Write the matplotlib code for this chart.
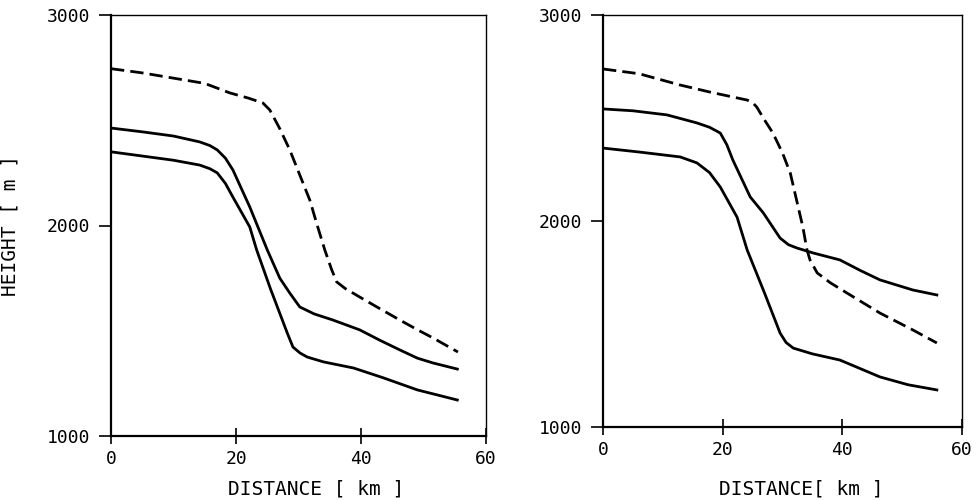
import matplotlib.pyplot as plt

# left panel
l_dash_x = [0, 5, 10, 15, 19, 22, 24.3, 25.4, 27, 28.6, 30.2, 31.8, 33, 34.2, 35.3, 36.1, 37.5, 39.8, 43, 46.2, 49, 51.5, 55.5]
l_dash_y = [2745, 2725, 2700, 2675, 2630, 2605, 2582, 2549, 2460, 2359, 2240, 2121, 2000, 1884, 1790, 1732, 1700, 1660, 1605, 1551, 1505, 1466, 1399]
l_up_x = [0, 5, 10, 14.2, 15.8, 17, 18.3, 19.5, 22.2, 25, 27, 28.6, 30.2, 32.5, 35.5, 39.8, 43, 46.2, 49, 51.5, 55.4]
l_up_y = [2463, 2445, 2425, 2397, 2380, 2359, 2320, 2264, 2088, 1884, 1750, 1679, 1613, 1580, 1551, 1504, 1455, 1409, 1370, 1347, 1318]
l_lo_x = [0, 5, 10, 14.2, 15.8, 17, 18.3, 19.5, 22.2, 23.3, 25.5, 28.2, 29.1, 30.2, 31.4, 34, 38.8, 43.6, 49, 55.4]
l_lo_y = [2350, 2330, 2310, 2287, 2270, 2250, 2200, 2135, 1993, 1884, 1700, 1489, 1423, 1395, 1375, 1352, 1323, 1276, 1219, 1171]

# right panel
r_dash_x = [0, 6, 12.9, 18, 24.1, 25, 25.7, 27, 28.4, 30, 31.3, 33.4, 34.1, 34.6, 35.8, 38, 40.8, 46.3, 51.8, 55.8]
r_dash_y = [2738, 2715, 2660, 2625, 2587, 2575, 2553, 2490, 2427, 2330, 2233, 1971, 1859, 1811, 1748, 1700, 1650, 1553, 1471, 1408]
r_up_x = [0, 5, 10.7, 15.7, 17.8, 19.6, 20.7, 21.7, 24.6, 26.8, 29.6, 31, 32.4, 35.1, 39.6, 43, 46.3, 51.8, 55.8]
r_up_y = [2544, 2535, 2515, 2476, 2455, 2427, 2370, 2296, 2117, 2039, 1917, 1885, 1869, 1845, 1811, 1760, 1714, 1665, 1641]
r_lo_x = [0, 6, 12.9, 15.7, 17.8, 19.6, 22.4, 24.1, 27, 29.6, 30.6, 31.8, 35, 39.6, 46.3, 51, 55.8]
r_lo_y = [2354, 2335, 2311, 2282, 2235, 2165, 2019, 1859, 1650, 1456, 1410, 1383, 1355, 1325, 1243, 1205, 1180]

xticks = [0, 20, 40, 60]
yticks = [1000, 2000, 3000]

plt.rcParams['font.family'] = 'DejaVu Sans Mono'

fig = plt.figure(figsize=(9.78, 5.0), dpi=100)
ax1 = fig.add_axes([0.1135, 0.128, 0.3835, 0.842])
ax2 = fig.add_axes([0.6166, 0.146, 0.367, 0.824])

def style(ax, xlabel, xlab_pos):
    ax.set_xlim(0, 60)
    ax.set_ylim(1000, 3000)
    ax.set_xticks(xticks)
    ax.set_yticks(yticks)
    ax.tick_params(axis='x', direction='inout', length=12, width=1.2, labelsize=13, pad=4)
    ax.tick_params(axis='y', direction='out', length=9, width=1.2, labelsize=13, pad=6)
    for s in ['left', 'bottom']:
        ax.spines[s].set_linewidth(1.6)
    for s in ['top', 'right']:
        ax.spines[s].set_linewidth(1.0)
    ax.set_xlabel(xlabel, fontsize=14)
    ax.xaxis.set_label_coords(xlab_pos[0], xlab_pos[1])

for ax, data in [(ax1, (l_dash_x, l_dash_y, l_up_x, l_up_y, l_lo_x, l_lo_y)),
                 (ax2, (r_dash_x, r_dash_y, r_up_x, r_up_y, r_lo_x, r_lo_y))]:
    dx, dy, ux, uy, lx, ly = data
    ax.plot(dx, dy, color='black', lw=2, dashes=(4.8, 2.2))
    ax.plot(ux, uy, color='black', lw=2)
    ax.plot(lx, ly, color='black', lw=2)

style(ax1, 'DISTANCE [ km ]', (0.547, -0.103))
style(ax2, 'DISTANCE[ km ]', (0.552, -0.128))
ax1.set_ylabel('HEIGHT [ m ]', fontsize=14)
ax1.yaxis.set_label_coords(-0.245, 0.5)

plt.savefig('out.png', dpi=100)
